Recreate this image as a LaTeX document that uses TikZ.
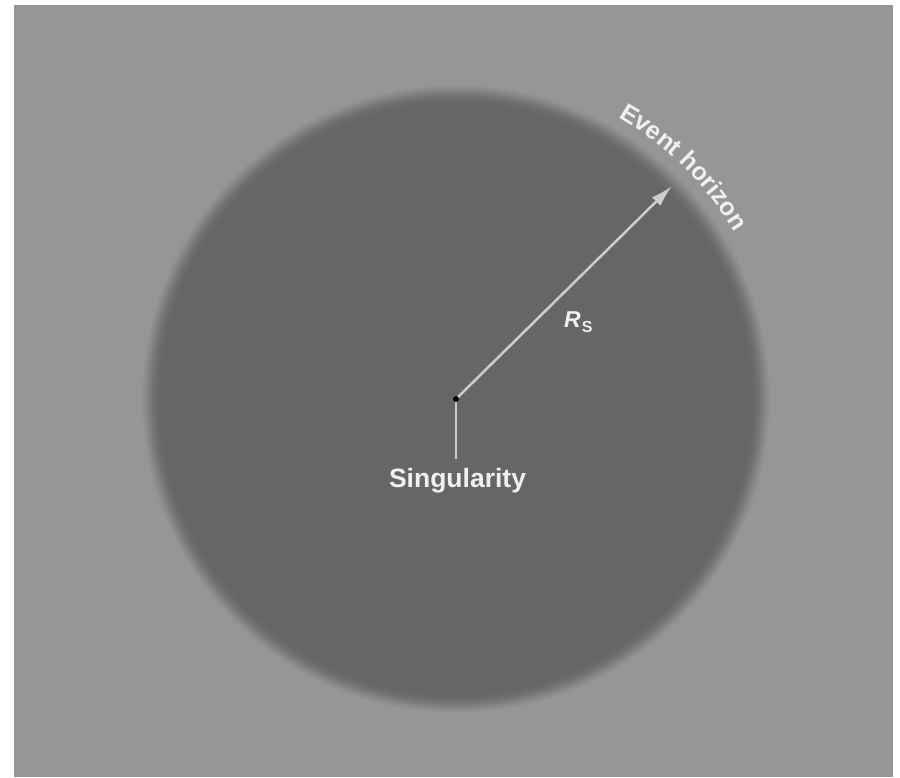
\documentclass[tikz,border=0pt]{standalone}
\usepackage{fontspec}
\setmainfont{Liberation Sans}
\usetikzlibrary{decorations.text, arrows.meta}
\definecolor{bg}{RGB}{150,150,150}
\definecolor{hole}{RGB}{102,102,102}
\definecolor{arrowc}{RGB}{205,205,205}
\definecolor{txt}{RGB}{240,240,240}
\tikzset{
  labeltext/.style={text=txt, font=\bfseries\fontsize{26.5}{30}\selectfont, inner sep=0pt},
  pointer/.style={draw=arrowc, line width=2.5pt},
}
\begin{document}
\begin{tikzpicture}[x=1pt,y=-1pt]
\useasboundingbox (0,0) rectangle (900,777);
\fill[white] (0,0) rectangle (900,777);
\fill[bg] (14,5) rectangle (893,777);
\coordinate (c) at (456,399);
% soft edge of the horizon
\foreach \r/\p in {314/8,312/20,310/34,308/48,306/62,304/74,302/84,300/91,298/96}
  \fill[hole!\p!bg] (c) circle (\r pt);
\fill[hole] (c) circle (296pt);
% radius arrow
\coordinate (tip) at (672,186);
\draw[pointer, -{Latex[length=22pt,width=12pt]}] (c) -- (tip);
% singularity
\node[circle, fill=black, inner sep=0pt, minimum size=6pt] (dot) at (c) {};
\node[labeltext, anchor=base] (sing) at (457.5,487) {Singularity};
\draw[pointer, shorten >=9pt] (dot) -- (dot |- sing.north);
% R_S label
\node[text=txt, inner sep=0pt, anchor=base west] (rs) at (564,327)
  {\fontsize{23}{26}\selectfont\bfseries\itshape R\kern1pt\raisebox{-5pt}{\upshape\fontsize{16}{18}\selectfont S}};
% event horizon label
\path[decorate, decoration={text along path, text align=center, text color=txt,
   text={|\bfseries\fontsize{25}{30}\selectfont|Event horizon}}]
   (c) ++(75:325pt) arc[start angle=75, end angle=16, radius=325pt];
\end{tikzpicture}
\end{document}
